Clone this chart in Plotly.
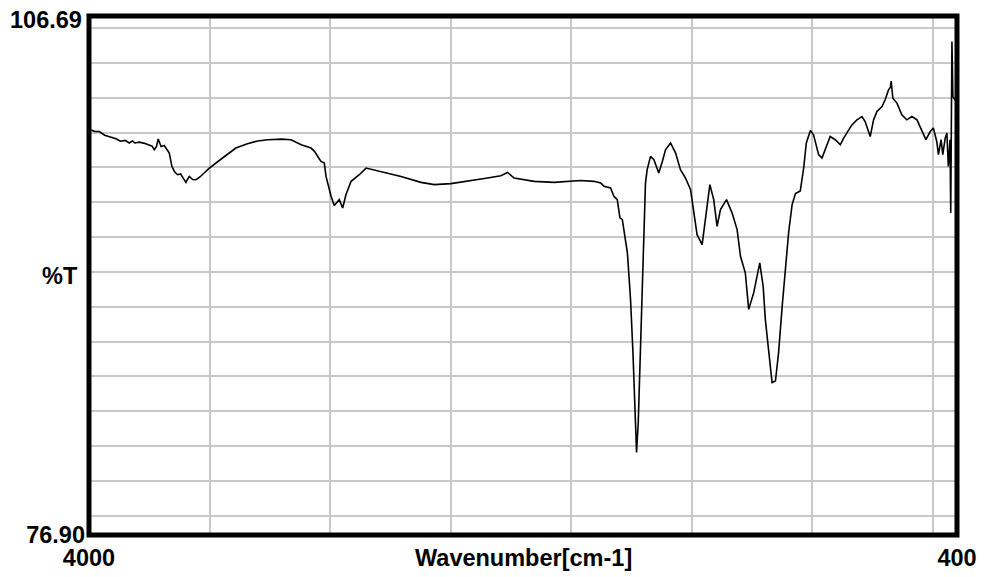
import plotly.graph_objects as go

# IR spectrum: wavenumber (cm-1) and %T
wavenumber = [
    4000, 3985, 3978, 3957, 3935, 3916, 3900, 3888, 3870, 3850, 3833, 3820, 3810, 3791,
    3770, 3750, 3738, 3729, 3720, 3713, 3701, 3688, 3667, 3656, 3645, 3633, 3620,
    3610, 3598, 3590, 3584, 3570, 3556, 3540, 3522, 3501, 3446, 3391, 3343, 3300,
    3258, 3200, 3162, 3120, 3079, 3065, 3038, 3024, 3017, 3004, 2996, 2983, 2970,
    2962, 2948, 2934, 2913, 2879, 2851, 2789, 2706, 2623, 2568, 2499, 2430, 2347,
    2292, 2264, 2237, 2154, 2071, 2016, 1961, 1906, 1878, 1864, 1837, 1823, 1809,
    1798, 1788, 1767, 1754, 1744, 1737, 1733, 1729, 1722, 1715, 1705, 1699, 1692,
    1685, 1671, 1657, 1637, 1622, 1609, 1588, 1567, 1547, 1526, 1505, 1492, 1478,
    1457, 1443, 1425, 1409, 1395, 1381, 1356, 1333, 1312, 1298, 1278, 1264, 1243,
    1218, 1204, 1195, 1181, 1167, 1153, 1140, 1125, 1112, 1098, 1084, 1070, 1050,
    1036, 1025, 1008, 995, 974, 960, 939, 926, 905, 884, 870, 850, 836, 815, 794,
    781, 771, 760, 746, 732, 711, 698, 684, 676, 673, 669, 666, 649, 629, 608, 587,
    566, 546, 529, 511, 498, 484, 477, 466, 459, 449, 442, 436, 429, 426, 421, 417,
    405,
]
transmittance = [
    100.15, 100.12, 100.06, 100.06, 99.85, 99.77, 99.70, 99.64, 99.50, 99.55, 99.40, 99.52, 99.40, 99.45,
    99.38, 99.30, 99.22, 99.01, 99.20, 99.63, 99.20, 99.26, 98.82, 98.05, 97.75, 97.58, 97.62,
    97.40, 97.14, 97.35, 97.48, 97.30, 97.29, 97.45, 97.68, 97.96, 98.54, 99.11, 99.36, 99.52,
    99.59, 99.62, 99.59, 99.30, 99.11, 98.92, 98.34, 98.25, 97.48, 96.72, 96.34, 95.81, 96.00,
    96.15, 95.67, 96.44, 97.20, 97.58, 97.96, 97.77, 97.48, 97.14, 97.01, 97.07, 97.20, 97.39,
    97.52, 97.71, 97.39, 97.20, 97.14, 97.20, 97.25, 97.20, 97.11, 96.91, 96.82, 96.34, 96.15,
    95.10, 95.00, 93.10, 90.42, 87.37, 84.51, 82.21, 81.64, 83.36, 86.80, 90.99, 94.05, 97.11,
    97.87, 98.63, 98.44, 97.68, 98.34, 99.01, 99.40, 98.82, 97.87, 97.39, 96.72, 95.39, 94.14,
    93.57, 95.00, 97.01, 96.15, 94.62, 95.58, 96.15, 95.39, 94.43, 92.90, 91.95, 89.85, 90.81,
    92.52, 91.18, 89.28, 87.37, 85.65, 85.74, 87.37, 90.04, 92.14, 94.30, 95.85, 96.50, 96.65,
    97.95, 99.40, 100.12, 99.87, 98.73, 98.54, 99.30, 99.77, 99.59, 99.30, 99.68, 100.16, 100.44, 100.73, 100.92,
    100.63, 100.16, 99.77, 100.73, 101.21, 101.49, 101.88, 102.45, 102.60, 102.96, 102.20, 101.97, 101.69, 101.02, 100.73, 100.92,
    100.73, 100.16, 99.59, 100.06, 100.26, 99.49, 98.73, 99.59, 98.73, 99.68, 99.97, 98.06, 99.59, 95.39, 105.22, 102.07,
    101.80,
]

x_range = [4000, 400]
y_range = [76.90, 106.69]
x_grid = [3500, 3000, 2500, 2000, 1500, 1000, 500]
y_grid = [78, 80, 82, 84, 86, 88, 90, 92, 94, 96, 98, 100, 102, 104, 106]
x_tick_labels = ["4000", "400"]
y_tick_labels = ["76.90", "106.69"]
x_title = "Wavenumber[cm-1]"
y_title = "%T"

FONT = dict(family="Liberation Sans, Arial, sans-serif", size=23.5, color="black", weight="bold")

fig = go.Figure()
fig.add_trace(go.Scatter(
    x=wavenumber, y=transmittance, mode="lines",
    line=dict(color="black", width=1.6), hoverinfo="skip", showlegend=False,
))

# page body has an 8px margin, so the figure is sized to fit inside the window
fig.update_layout(
    width=977, height=569,
    margin=dict(l=81, r=28, t=8, b=42),
    paper_bgcolor="white", plot_bgcolor="white",
    font=FONT,
    showlegend=False,
    xaxis=dict(
        range=x_range, showgrid=False, zeroline=False, showline=False, automargin=False,
        tickmode="array", tickvals=x_range, ticktext=x_tick_labels,
        ticks="", ticklabelstandoff=6, tickfont=FONT, ticklabeloverflow="allow",
        minor=dict(tickmode="array", tickvals=x_grid, showgrid=True,
                   gridcolor="#c8c8c8", gridwidth=1.6, ticks=""),
    ),
    yaxis=dict(
        range=y_range, showgrid=False, zeroline=False, showline=False, automargin=False,
        tickmode="array", tickvals=[y_range[0]], ticktext=[y_tick_labels[0]],
        ticks="", ticklabelstandoff=3, tickfont=FONT, ticklabeloverflow="allow",
        minor=dict(tickmode="array", tickvals=y_grid, showgrid=True,
                   gridcolor="#c8c8c8", gridwidth=1.6, ticks=""),
    ),
    shapes=[dict(type="rect", xref="paper", yref="paper", x0=0, x1=1, y0=0, y1=1,
                 line=dict(color="black", width=5), fillcolor="rgba(0,0,0,0)", layer="above")],
    annotations=[
        dict(text=y_tick_labels[1], xref="paper", yref="y", x=0, y=y_range[1],
             xshift=-5, yshift=-4, showarrow=False, font=FONT,
             xanchor="right", yanchor="middle"),
        dict(text=x_title, xref="paper", yref="paper", x=0.5, y=0, yshift=-23,
             showarrow=False, font=FONT, xanchor="center", yanchor="middle"),
        dict(text=y_title, xref="paper", yref="paper", x=0, y=0.5, xshift=-29,
             showarrow=False, font=FONT, xanchor="center", yanchor="middle"),
    ],
)

fig.write_html("out.html")
